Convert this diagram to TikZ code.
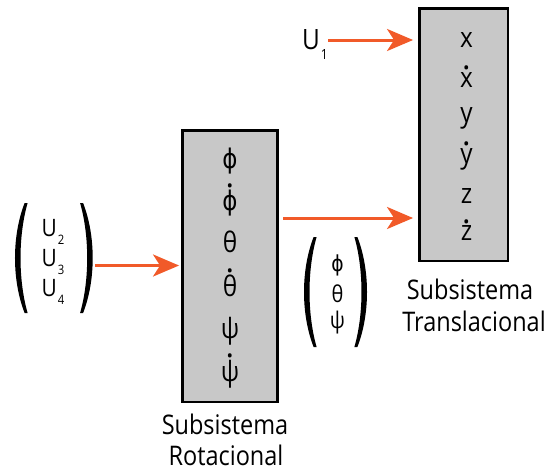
\documentclass[tikz,border=0pt]{standalone}
\usepackage{fontspec}
\setmainfont{Open Sans}[FakeStretch=0.87]
\newfontfamily\phifont{DejaVu Sans}[FakeStretch=0.85]
\newfontfamily\dotfont{Open Sans}
\usetikzlibrary{arrows.meta}
\definecolor{flowor}{HTML}{F15A29}
\definecolor{boxgray}{HTML}{C8C8C8}
% time derivative: a round dot set above the symbol, kept out of the box size
\newcommand\dotsym[1]{\setbox0\hbox{#1}%
  \hbox to\wd0{\hss\smash{\raisebox{\dimexpr\ht0+3pt\relax}{\dotfont\fontsize{32}{32}\selectfont.}}\hss}%
  \kern-\wd0\box0}
% lowered index: #1 drop, #2 size, #3 digit
\newcommand\subidx[3]{\kern1pt\smash{\raisebox{-#1}{\fontsize{#2}{#2}\selectfont#3}}}
\tikzset{
  blk/.style={draw=black, line width=2.5pt, fill=boxgray, inner sep=0pt, outer sep=0pt},
  sym/.style={font=\fontsize{28}{28}\selectfont, inner sep=0pt},
  gsym/.style={font=\phifont\fontsize{27}{27}\selectfont, inner sep=0pt},
  vsym/.style={font=\fontsize{23}{23}\selectfont, inner sep=0pt},
  lbl/.style={font=\fontsize{27}{27}\selectfont, inner sep=0pt, anchor=base},
  inp/.style={font=\fontsize{24}{24}\selectfont, inner sep=0pt, anchor=west},
  flow/.style={draw=flowor, line width=3pt, -{Stealth[length=26pt,width=22pt,inset=7pt]}},
  % tall bracket: #1 = width (negative for a closing one), #2 = height
  pics/paren/.style 2 args={code={
    \fill[x=#1, y=#2]
      (0.8,0) .. controls (-0.267,0.3) and (-0.267,0.7) .. (0.8,1)
      -- (1.05,1) .. controls (0.263,0.7) and (0.263,0.3) .. (1.05,0) -- cycle;}},
}
\begin{document}
\begin{tikzpicture}[x=1pt,y=-1pt]
\useasboundingbox (0,0) rectangle (549,472);

% subsystem blocks
\node[blk, minimum width=95pt, minimum height=271.5pt] (rot) at (229.75,266) {};
\node[blk, minimum width=88.5pt, minimum height=252.5pt] (tra) at (463.6,134.8) {};

% rotational states
\node[gsym] (phi)  at (230,161.5) {ϕ};
\node[gsym] (phid) at (230,203.5) {\dotsym{ϕ}};
\node[sym]  (th)   at (230,241.5) {θ};
\node[sym]  (thd)  at (230,286)   {\dotsym{θ}};
\node[sym]  (psi)  at (230,331)   {ψ};
\node[sym]  (psid) at (230,374)   {\dotsym{ψ}};

% translational states
\node[sym] (sx)  at (466.5,40)    {x};
\node[sym] (sxd) at (466.5,80)    {\dotsym{x}};
\node[sym] (sy)  at (466.5,118.5) {y};
\node[sym] (syd) at (466.5,159)   {\dotsym{y}};
\node[sym] (sz)  at (466.5,196.5) {z};
\node[sym] (szd) at (466.5,233.5) {\dotsym{z}};

% block captions
\node[lbl] (tracap1) at (470,299) {Subsistema};
\node[lbl] (tracap2) at (474,331) {Translacional};
\node[lbl] (rotcap1) at (225,434) {Subsistema};
\node[lbl] (rotcap2) at (226,465) {Rotacional};

% inputs
\node[inp, font=\fontsize{28}{28}\selectfont] (u1) at (302,40) {U\subidx{10pt}{14}{1}};
\node[inp] (u2) at (41.5,228.5) {U\subidx{8pt}{13}{2}};
\node[inp] (u3) at (41.5,258.5) {U\subidx{8pt}{13}{3}};
\node[inp] (u4) at (41.5,288.5) {U\subidx{8pt}{13}{4}};
\pic at (15,203)   {paren={12pt}{-110pt}};
\pic at (92.7,203) {paren={-12pt}{-110pt}};

% attitude fed to the translational block
\node[vsym, font=\phifont\fontsize{22}{22}\selectfont] (avphi) at (337.5,265) {ϕ};
\node[vsym] (avth)  at (337.5,293.5) {θ};
\node[vsym] (avpsi) at (337.5,323)   {ψ};
\pic at (304,237) {paren={12pt}{-110pt}};
\pic at (367,237) {paren={-12pt}{-110pt}};

% connectors
\coordinate (uin) at (95,265.5);
\draw[flow, shorten >=6.3pt] (u1.east) -- (u1.east -| tra.west);
\draw[flow, shorten >=3.2pt] (uin) -- (uin -| rot.west);
\draw[flow, shorten <=5.75pt, shorten >=6.3pt] ([yshift=48pt]rot.east) -- ([yshift=48pt]rot.east -| tra.west);
\end{tikzpicture}
\end{document}
